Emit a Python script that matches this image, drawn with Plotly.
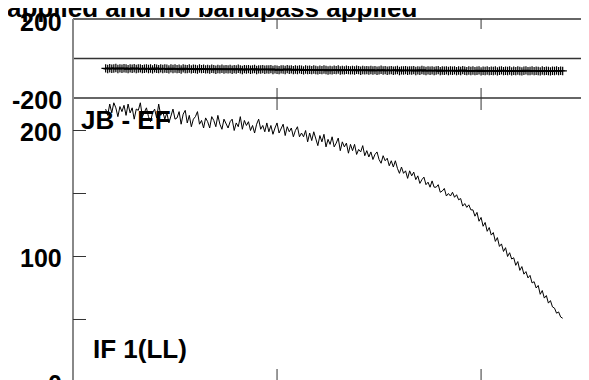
import plotly.graph_objects as go

# ---------------- data ----------------
channels = list(range(16, 241))

amplitude = [
    217, 212, 221, 214, 222, 218, 211, 219, 215, 220,
    212, 221, 214, 218, 209, 217, 216, 222, 211, 215,
    218, 211, 207, 214, 217, 210, 221, 212, 215, 209,
    214, 206, 212, 217, 209, 210, 215, 205, 213, 216,
    206, 212, 203, 209, 211, 215, 205, 208, 202, 210,
    207, 202, 211, 208, 203, 212, 205, 201, 209, 206,
    202, 207, 209, 200, 206, 203, 211, 201, 208, 204,
    207, 200, 204, 198, 205, 209, 201, 204, 199, 206,
    199, 204, 197, 202, 206, 198, 201, 205, 196, 203,
    199, 202, 195, 200, 203, 195, 198, 195, 200, 191,
    198, 192, 199, 194, 188, 196, 191, 197, 187, 193,
    189, 195, 187, 190, 194, 184, 191, 187, 190, 182,
    189, 184, 189, 181, 185, 183, 188, 180, 184, 179,
    183, 177, 181, 183, 177, 174, 180, 176, 178, 172,
    176, 171, 176, 170, 166, 171, 166, 168, 162, 168,
    164, 167, 161, 164, 158, 161, 163, 157, 159, 155,
    160, 155, 155, 157, 151, 152, 154, 148, 150, 148,
    151, 147, 149, 145, 146, 140, 142, 139, 141, 137,
    137, 132, 135, 128, 131, 124, 127, 120, 123, 117,
    119, 112, 115, 108, 110, 104, 107, 100, 103, 98,
    99, 93, 96, 89, 92, 86, 88, 83, 85, 79,
    80, 75, 77, 70, 73, 67, 69, 63, 65, 60,
    59, 55, 56, 52, 51,
]

phase = [
    -50, -53, -49, -52, -51, -48, -53, -50, -52, -49,
    -51, -54, -50, -52, -49, -53, -51, -50, -54, -52,
    -50, -53, -51, -55, -49, -52, -54, -50, -53, -51,
    -52, -55, -50, -53, -51, -54, -52, -56, -50, -53,
    -54, -51, -55, -52, -53, -56, -51, -54, -52, -55,
    -53, -56, -52, -54, -57, -53, -55, -52, -56, -54,
    -55, -53, -57, -54, -56, -52, -55, -58, -54, -56,
    -54, -57, -55, -53, -58, -55, -56, -54, -57, -55,
    -56, -54, -58, -55, -57, -59, -55, -56, -58, -54,
    -57, -55, -59, -56, -58, -55, -57, -60, -56, -58,
    -57, -59, -56, -58, -60, -57, -59, -56, -58, -61,
    -58, -60, -57, -59, -56, -61, -58, -60, -57, -59,
    -60, -58, -61, -57, -59, -62, -58, -60, -59, -61,
    -58, -61, -59, -62, -60, -57, -61, -59, -62, -60,
    -59, -62, -60, -58, -63, -60, -61, -59, -62, -60,
    -61, -59, -63, -60, -62, -58, -61, -63, -60, -62,
    -60, -63, -61, -59, -64, -61, -62, -60, -63, -61,
    -62, -60, -64, -61, -63, -59, -62, -64, -61, -63,
    -61, -64, -62, -60, -65, -62, -63, -61, -64, -62,
    -63, -61, -65, -62, -60, -64, -62, -63, -61, -65,
    -62, -64, -61, -63, -65, -62, -60, -64, -63, -61,
    -64, -62, -63, -65, -61, -64, -62, -63, -65, -62,
    -63, -61, -64, -62, -63,
]

x_ticks = [100, 200]
amp_ticks = [50, 100, 150, 200]
amp_labels = ["100", "200"]
phase_labels = ["200", "-200"]
title_text = "applied and no bandpass applied"
baseline_text = "JB - EF"
if_text = "IF 1(LL)"

# ---------------- layout geometry ----------------
# the page body has an 8px margin, so the figure starts at (8, 8) on screen
OFF = 8
SW, SH = 589, 380          # screen size
W, H = SW - OFF, SH - OFF  # figure size
L, T = 73 - OFF, 19 - OFF  # plot area left / top inside figure
PW, PH = W - L, H - T
XR = [0, 252.9]
AMP_R = [1.98, 225.8]
PH_R = [-200, 200]
SPLIT = (SH - 98) / PH     # paper y of panel boundary (screen y = 98)

FONT = "Liberation Sans, Arial, sans-serif"


def px_x(sx):
    """screen x -> paper x"""
    return (sx - OFF - L) / PW


def px_y(sy):
    """screen y -> paper y"""
    return (H - (sy - OFF)) / PH


def ch_to_paper(c):
    return (c - XR[0]) / (XR[1] - XR[0])


def amp_to_paper(v):
    return (v - AMP_R[0]) / (AMP_R[1] - AMP_R[0]) * SPLIT


def ph_to_paper(v):
    return SPLIT + (v - PH_R[0]) / (PH_R[1] - PH_R[0]) * (1 - SPLIT)


fig = go.Figure()

fig.add_trace(go.Scatter(
    x=channels, y=amplitude, mode="lines",
    line=dict(color="black", width=1), xaxis="x", yaxis="y",
    showlegend=False, hoverinfo="skip",
))
fig.add_trace(go.Scatter(
    x=channels, y=phase, mode="markers",
    marker=dict(symbol="cross-thin", size=6, line=dict(color="black", width=1.2)),
    xaxis="x", yaxis="y2", showlegend=False, hoverinfo="skip",
))

shapes = []
dark = "#333333"
gray = "#888888"


def line(x0, y0, x1, y1, color=dark, width=1.5):
    shapes.append(dict(type="line", xref="paper", yref="paper",
                       x0=x0, y0=y0, x1=x1, y1=y1,
                       line=dict(color=color, width=width)))


# horizontal panel lines
line(0, 1, 1.02, 1)
line(0, ph_to_paper(0), 1.02, ph_to_paper(0))
line(0, SPLIT, 1.02, SPLIT)
# left axis
line(0, 1, 0, -0.02, color=gray, width=2)

tick_len_x = 13 / PW
for v in amp_ticks:
    yy = amp_to_paper(v)
    line(0, yy, tick_len_x, yy, color=dark, width=1)
    line(px_x(584), yy, 1.02, yy, color=dark, width=1)

for c in x_ticks:
    xx = ch_to_paper(c)
    line(xx, 1, xx, 1 - 10 / PH, color=dark, width=1)
    line(xx, SPLIT, xx, SPLIT + 10 / PH, color=dark, width=1)
    line(xx, SPLIT, xx, SPLIT - 12 / PH, color=dark, width=1)
    line(xx, 0, xx, 11 / PH, color=dark, width=1)

annotations = []


def label(text, x, y, anchor="right", size=25):
    annotations.append(dict(
        text="<b>%s</b>" % text, xref="paper", yref="paper",
        x=x, y=y, xanchor=anchor, yanchor="middle", showarrow=False,
        font=dict(family=FONT, size=size, color="black"),
    ))


label(phase_labels[0], px_x(64), px_y(22))
label(phase_labels[1], px_x(64), px_y(100))
label(amp_labels[1], px_x(64), px_y(132))
label(amp_labels[0], px_x(64), px_y(258))
label("0", px_x(64), px_y(384))
label(baseline_text, px_x(79), px_y(120), anchor="left", size=26)
label(if_text, px_x(91), px_y(349), anchor="left", size=26)
label(title_text, px_x(419), px_y(8), anchor="right", size=26)

fig.update_layout(
    width=W, height=H,
    margin=dict(l=L, r=0, t=T, b=0, pad=0),
    paper_bgcolor="white", plot_bgcolor="white",
    xaxis=dict(range=XR, domain=[0, 1], showgrid=False, zeroline=False,
               showline=False, showticklabels=False, ticks=""),
    yaxis=dict(range=AMP_R, domain=[0, SPLIT], showgrid=False, zeroline=False,
               showline=False, showticklabels=False, ticks="", anchor="x"),
    yaxis2=dict(range=PH_R, domain=[SPLIT, 1], showgrid=False, zeroline=False,
                showline=False, showticklabels=False, ticks="", anchor="x"),
    shapes=shapes, annotations=annotations,
)

fig.write_html("out.html")
